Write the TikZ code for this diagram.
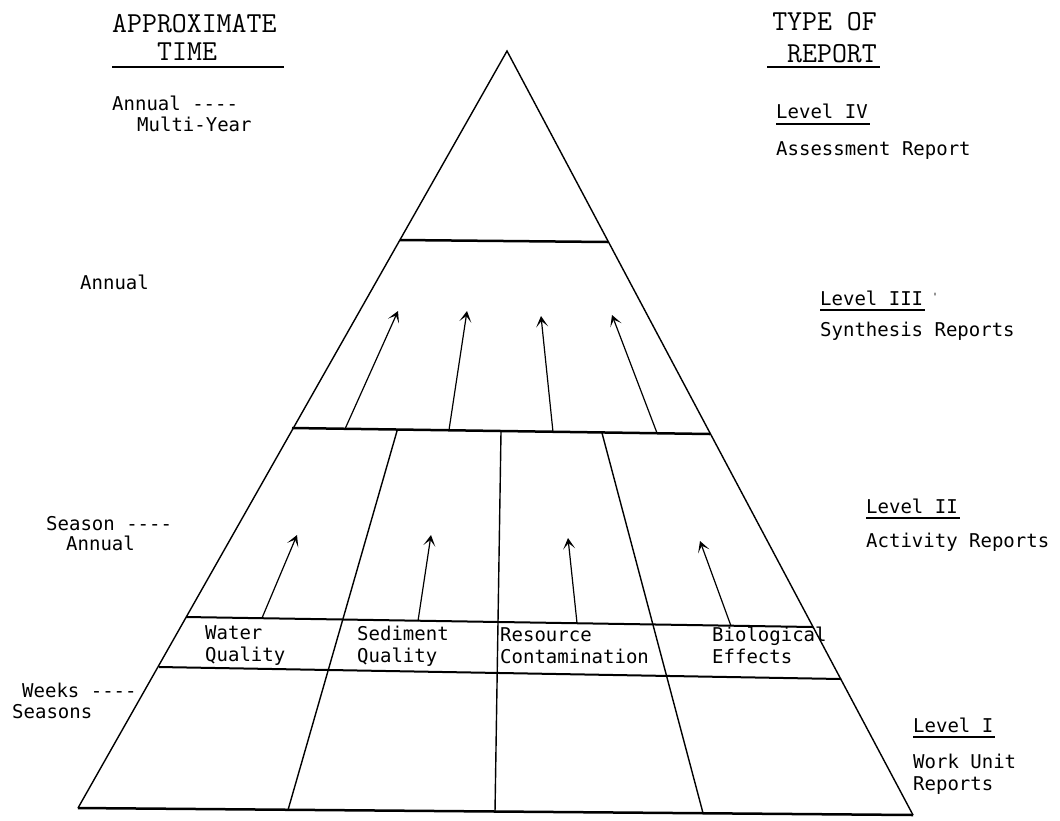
\documentclass[tikz,border=0pt]{standalone}
\usepackage{fontspec}
\newfontfamily\headfont{Latin Modern Mono}
\newfontfamily\bodyfont{DejaVu Sans Mono}
\usetikzlibrary{arrows.meta}
\begin{document}
\begin{tikzpicture}[x=1pt,y=-1pt,
  edge/.style={line width=1.4pt},
  tier/.style={line width=2.5pt},
  flow/.style={line width=1.2pt,-{Stealth[length=11pt,width=12pt,inset=6pt]}},
  head/.style={font=\headfont\fontsize{29}{32}\selectfont, inner sep=0pt},
  lbl/.style={font=\bodyfont\fontsize{19}{22}\selectfont, inner sep=0pt, anchor=base west},
  uline/.style={line width=2pt}]
\useasboundingbox (0,0) rectangle (1060,820);
\fill[white] (0,0) rectangle (1060,820);

% pyramid corners
\coordinate (apex) at (507,51);
\coordinate (bl) at (78,808);
\coordinate (br) at (913,815);
% tier boundaries on the two sides
\coordinate (l4) at (400,240);  \coordinate (r4) at (608,242);
\coordinate (l3) at (292,428);  \coordinate (r3) at (710,434);
\coordinate (st) at (186,617);  \coordinate (rt) at (813,627);
\coordinate (sb) at (159,667);  \coordinate (rb) at (841,679);
% column dividers
\coordinate (d1t) at (397,431); \coordinate (d1b) at (288,810);
\coordinate (d2t) at (501,432); \coordinate (d2b) at (495,812);
\coordinate (d3t) at (602,433); \coordinate (d3b) at (703,813);

\draw[edge] (bl) -- (apex) -- (br);
\draw[tier] (bl) -- (br);
\draw[tier] (l4) -- (r4);
\draw[tier] (l3) -- (r3);
\draw[uline] (st) -- (rt);
\draw[uline] (sb) -- (rb);
\draw[edge] (d1t) -- (d1b);
\draw[edge] (d2t) -- (d2b);
\draw[edge] (d3t) -- (d3b);

% activity -> synthesis arrows
\coordinate (a1) at (345,429);  \coordinate (a1t) at (398,311);
\coordinate (a2) at (449,430);  \coordinate (a2t) at (467,311);
\coordinate (a3) at (553,432);  \coordinate (a3t) at (541,316);
\coordinate (a4) at (657,433);  \coordinate (a4t) at (612,315);
\draw[flow] (a1) -- (a1t);
\draw[flow] (a2) -- (a2t);
\draw[flow] (a3) -- (a3t);
\draw[flow] (a4) -- (a4t);

% work unit -> activity arrows
\coordinate (b1) at (262,618);  \coordinate (b1t) at (297,535);
\coordinate (b2) at (418,621);  \coordinate (b2t) at (431,535);
\coordinate (b3) at (577,623);  \coordinate (b3t) at (568,538);
\coordinate (b4) at (731,626);  \coordinate (b4t) at (700,541);
\draw[flow] (b1) -- (b1t);
\draw[flow] (b2) -- (b2t);
\draw[flow] (b3) -- (b3t);
\draw[flow] (b4) -- (b4t);

% category strip
\node[lbl] (wq1) at (205,639) {Water};
\node[lbl] (wq2) at (205,661) {Quality};
\node[lbl] (sq1) at (357,640) {Sediment};
\node[lbl] (sq2) at (357,662) {Quality};
\node[lbl] (rc1) at (500,641) {Resource};
\node[lbl] (rc2) at (500,663) {Contamination};
\node[lbl] (be1) at (712,641) {Biological};
\node[lbl] (be2) at (712,663) {Effects};

% column headings
\node[head, anchor=base west] (ap) at (112,32) {APPROXIMATE};
\node[head, anchor=base west] (tm) at (157,60) {TIME};
\draw[uline] (112,67) -- (284,67);
\node[head, anchor=base east] (ty) at (877,30) {TYPE OF};
\node[head, anchor=base east] (rp) at (877,62) {REPORT};
\draw[uline] (767,67) -- (880,67);

% time scale
\node[lbl] (t4a) at (112,110) {Annual ----};
\node[lbl] (t4b) at (137,131) {Multi-Year};
\node[lbl] (t3) at (80,289) {Annual};
\node[lbl] (t2a) at (46,530) {Season ----};
\node[lbl] (t2b) at (66,550) {Annual};
\node[lbl] (t1a) at (22,697) {Weeks ----};
\node[lbl] (t1b) at (12,718) {Seasons};

% report levels
\node[lbl] (lv4) at (776,118) {Level IV};
\draw[uline] ([yshift=-6pt]lv4.base west) -- ([yshift=-6pt,xshift=2pt]lv4.base east);
\node[lbl] (lv4t) at (776,155) {Assessment Report};
\node[lbl] (lv3) at (820,305) {Level III};
\draw[uline] ([yshift=-5pt]lv3.base west) -- ([yshift=-5pt,xshift=2pt]lv3.base east);
\node[font=\bodyfont\fontsize{10}{12}\selectfont, inner sep=0pt, anchor=base west] (tick) at (932,300) {'};
\node[lbl] (lv3t) at (820,336) {Synthesis Reports};
\node[lbl] (lv2) at (866,513) {Level II};
\draw[uline] ([yshift=-5pt]lv2.base west) -- ([yshift=-5pt,xshift=2pt]lv2.base east);
\node[lbl] (lv2t) at (866,547) {Activity Reports};
\node[lbl] (lv1) at (913,732) {Level I};
\draw[uline] ([yshift=-5pt]lv1.base west) -- ([yshift=-5pt,xshift=2pt]lv1.base east);
\node[lbl] (lv1t) at (913,768) {Work Unit};
\node[lbl] (lv1u) at (913,790) {Reports};
\end{tikzpicture}
\end{document}
